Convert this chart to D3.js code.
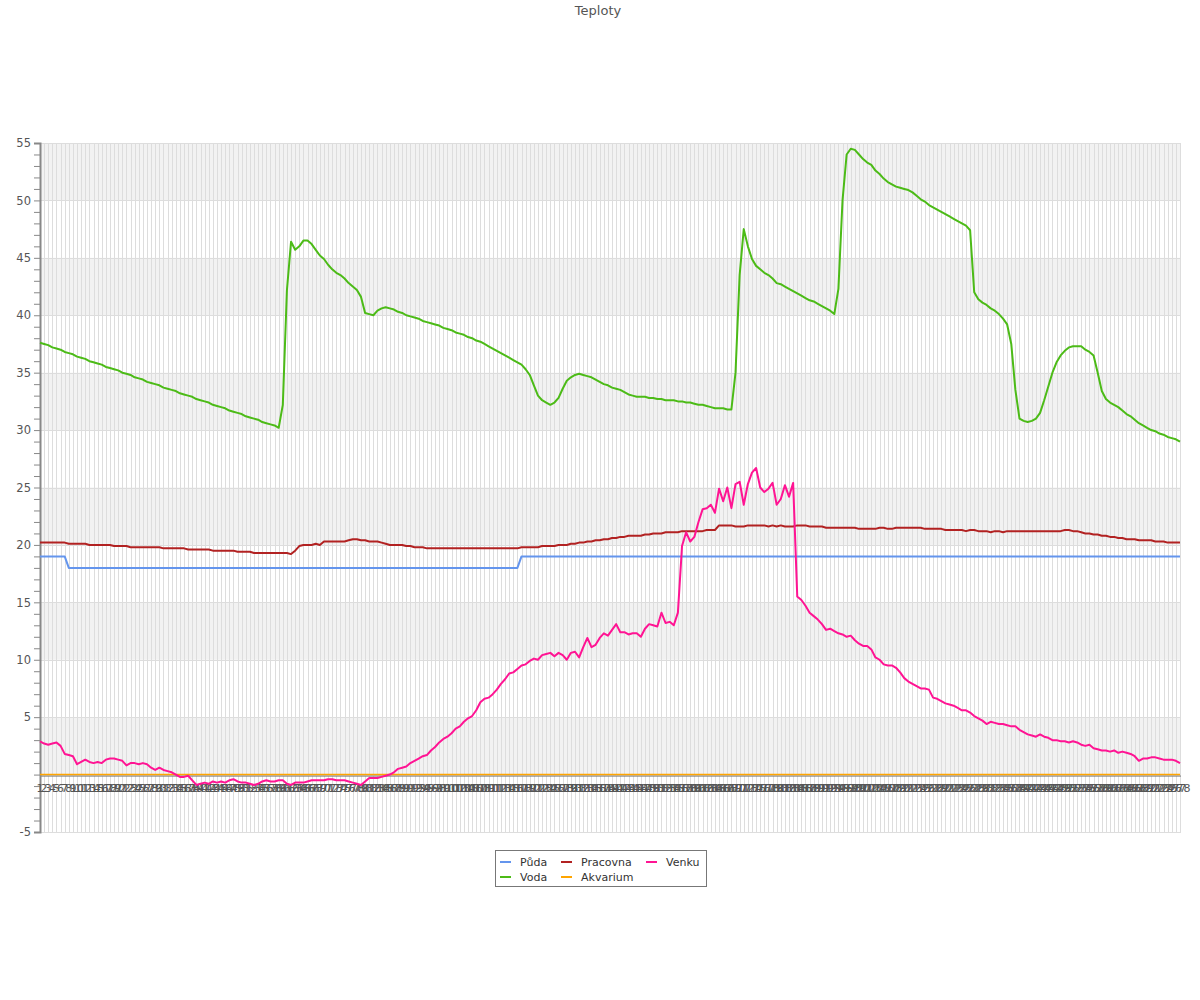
<!DOCTYPE html>
<html><head><meta charset="utf-8">
<script src="https://cdn.jsdelivr.net/npm/d3@7"></script>
<style>body{margin:0;background:#fff;} svg{display:block;font-family:"DejaVu Sans",sans-serif;}</style>
</head><body><svg id="c" width="1200" height="1000"></svg>
<script>
const chartTitle = "Teploty";
const categories = d3.range(1, 279).map(String);
const yLabelTicks = [-5,5,10,15,20,25,30,35,40,45,50,55];
const seriesNames = ["Půda","Voda","Pracovna","Akvarium","Venku"];
const seriesColors = ["#6495ed","#4cbb17","#b22222","#ffa500","#ff1493"];

const puda = [
19,19,19,19,19,19,19,18,18,18,
18,18,18,18,18,18,18,18,18,18,
18,18,18,18,18,18,18,18,18,18,
18,18,18,18,18,18,18,18,18,18,
18,18,18,18,18,18,18,18,18,18,
18,18,18,18,18,18,18,18,18,18,
18,18,18,18,18,18,18,18,18,18,
18,18,18,18,18,18,18,18,18,18,
18,18,18,18,18,18,18,18,18,18,
18,18,18,18,18,18,18,18,18,18,
18,18,18,18,18,18,18,18,18,18,
18,18,18,18,18,18,18,19,19,19,
19,19,19,19,19,19,19,19,19,19,
19,19,19,19,19,19,19,19,19,19,
19,19,19,19,19,19,19,19,19,19,
19,19,19,19,19,19,19,19,19,19,
19,19,19,19,19,19,19,19,19,19,
19,19,19,19,19,19,19,19,19,19,
19,19,19,19,19,19,19,19,19,19,
19,19,19,19,19,19,19,19,19,19,
19,19,19,19,19,19,19,19,19,19,
19,19,19,19,19,19,19,19,19,19,
19,19,19,19,19,19,19,19,19,19,
19,19,19,19,19,19,19,19,19,19,
19,19,19,19,19,19,19,19,19,19,
19,19,19,19,19,19,19,19,19,19,
19,19,19,19,19,19,19,19,19,19,
19,19,19,19,19,19,19,19];

const voda = [
37.6,37.5,37.4,37.2,37.1,37.0,36.8,36.7,36.6,36.4,
36.3,36.2,36.0,35.9,35.8,35.7,35.5,35.4,35.3,35.2,
35.0,34.9,34.8,34.6,34.5,34.4,34.2,34.1,34.0,33.9,
33.7,33.6,33.5,33.4,33.2,33.1,33.0,32.9,32.7,32.6,
32.5,32.4,32.2,32.1,32.0,31.9,31.7,31.6,31.5,31.4,
31.2,31.1,31.0,30.9,30.7,30.6,30.5,30.4,30.2,32.2,
42.2,46.4,45.7,46.0,46.5,46.5,46.2,45.7,45.2,44.9,
44.4,44.0,43.7,43.5,43.2,42.8,42.5,42.2,41.6,40.2,
40.1,40.0,40.4,40.6,40.7,40.6,40.5,40.3,40.2,40.0,
39.9,39.8,39.7,39.5,39.4,39.3,39.2,39.1,38.9,38.8,
38.7,38.5,38.4,38.3,38.1,38.0,37.8,37.7,37.5,37.3,
37.1,36.9,36.7,36.5,36.3,36.1,35.9,35.7,35.3,34.8,
33.9,33.0,32.6,32.4,32.2,32.4,32.8,33.6,34.3,34.6,
34.8,34.9,34.8,34.7,34.6,34.4,34.2,34.0,33.9,33.7,
33.6,33.5,33.3,33.1,33.0,32.9,32.9,32.9,32.8,32.8,
32.7,32.7,32.6,32.6,32.6,32.5,32.5,32.4,32.4,32.3,
32.2,32.2,32.1,32.0,31.9,31.9,31.9,31.8,31.8,35.0,
43.5,47.5,46.0,44.9,44.3,44.0,43.7,43.5,43.2,42.8,
42.7,42.5,42.3,42.1,41.9,41.7,41.5,41.3,41.2,41.0,
40.8,40.6,40.4,40.1,42.3,50.0,54.0,54.5,54.4,54.0,
53.6,53.3,53.1,52.6,52.3,51.9,51.6,51.4,51.2,51.1,
51.0,50.9,50.7,50.4,50.1,49.9,49.6,49.4,49.2,49.0,
48.8,48.6,48.4,48.2,48.0,47.8,47.4,42.0,41.4,41.1,
40.9,40.6,40.4,40.1,39.7,39.2,37.5,33.5,31.0,30.8,
30.7,30.8,31.0,31.5,32.6,33.8,35.0,35.9,36.5,36.9,
37.2,37.3,37.3,37.3,37.0,36.8,36.5,35.0,33.4,32.7,
32.4,32.2,32.0,31.7,31.4,31.2,30.9,30.6,30.4,30.2,
30.0,29.9,29.7,29.6,29.4,29.3,29.2,29.0];

const pracovna = [
20.2,20.2,20.2,20.2,20.2,20.2,20.2,20.1,20.1,20.1,
20.1,20.1,20.0,20.0,20.0,20.0,20.0,20.0,19.9,19.9,
19.9,19.9,19.8,19.8,19.8,19.8,19.8,19.8,19.8,19.8,
19.7,19.7,19.7,19.7,19.7,19.7,19.6,19.6,19.6,19.6,
19.6,19.6,19.5,19.5,19.5,19.5,19.5,19.5,19.4,19.4,
19.4,19.4,19.3,19.3,19.3,19.3,19.3,19.3,19.3,19.3,
19.3,19.2,19.5,19.9,20.0,20.0,20.0,20.1,20.0,20.3,
20.3,20.3,20.3,20.3,20.3,20.4,20.5,20.5,20.4,20.4,
20.3,20.3,20.3,20.2,20.1,20.0,20.0,20.0,20.0,19.9,
19.9,19.8,19.8,19.8,19.7,19.7,19.7,19.7,19.7,19.7,
19.7,19.7,19.7,19.7,19.7,19.7,19.7,19.7,19.7,19.7,
19.7,19.7,19.7,19.7,19.7,19.7,19.7,19.8,19.8,19.8,
19.8,19.8,19.9,19.9,19.9,19.9,20.0,20.0,20.0,20.1,
20.1,20.2,20.2,20.3,20.3,20.4,20.4,20.5,20.5,20.6,
20.6,20.7,20.7,20.8,20.8,20.8,20.8,20.9,20.9,21.0,
21.0,21.0,21.1,21.1,21.1,21.1,21.2,21.2,21.2,21.2,
21.2,21.2,21.3,21.3,21.3,21.7,21.7,21.7,21.7,21.6,
21.6,21.6,21.7,21.7,21.7,21.7,21.7,21.6,21.7,21.6,
21.7,21.6,21.6,21.6,21.7,21.7,21.7,21.6,21.6,21.6,
21.6,21.5,21.5,21.5,21.5,21.5,21.5,21.5,21.5,21.4,
21.4,21.4,21.4,21.4,21.5,21.5,21.4,21.4,21.5,21.5,
21.5,21.5,21.5,21.5,21.5,21.4,21.4,21.4,21.4,21.4,
21.3,21.3,21.3,21.3,21.3,21.2,21.3,21.3,21.2,21.2,
21.2,21.1,21.2,21.2,21.1,21.2,21.2,21.2,21.2,21.2,
21.2,21.2,21.2,21.2,21.2,21.2,21.2,21.2,21.2,21.3,
21.3,21.2,21.2,21.1,21.0,21.0,20.9,20.9,20.8,20.8,
20.7,20.7,20.6,20.6,20.5,20.5,20.5,20.4,20.4,20.4,
20.4,20.3,20.3,20.3,20.2,20.2,20.2,20.2];

const akvarium = [
0,0,0,0,0,0,0,0,0,0, 0,0,0,0,0,0,0,0,0,0, 0,0,0,0,0,0,0,0,0,0,
0,0,0,0,0,0,0,0,0,0, 0,0,0,0,0,0,0,0,0,0, 0,0,0,0,0,0,0,0,0,0,
0,0,0,0,0,0,0,0,0,0, 0,0,0,0,0,0,0,0,0,0, 0,0,0,0,0,0,0,0,0,0,
0,0,0,0,0,0,0,0,0,0, 0,0,0,0,0,0,0,0,0,0, 0,0,0,0,0,0,0,0,0,0,
0,0,0,0,0,0,0,0,0,0, 0,0,0,0,0,0,0,0,0,0, 0,0,0,0,0,0,0,0,0,0,
0,0,0,0,0,0,0,0,0,0, 0,0,0,0,0,0,0,0,0,0, 0,0,0,0,0,0,0,0,0,0,
0,0,0,0,0,0,0,0,0,0, 0,0,0,0,0,0,0,0,0,0, 0,0,0,0,0,0,0,0,0,0,
0,0,0,0,0,0,0,0,0,0, 0,0,0,0,0,0,0,0,0,0, 0,0,0,0,0,0,0,0,0,0,
0,0,0,0,0,0,0,0,0,0, 0,0,0,0,0,0,0,0,0,0, 0,0,0,0,0,0,0,0,0,0,
0,0,0,0,0,0,0,0];

const venku = [
2.9,2.7,2.6,2.7,2.8,2.5,1.8,1.7,1.6,0.9,
1.1,1.3,1.1,1.0,1.1,1.0,1.3,1.4,1.4,1.3,
1.2,0.8,1.0,1.0,0.9,1.0,0.9,0.6,0.4,0.6,
0.4,0.3,0.2,0.0,-0.2,-0.2,-0.1,-0.5,-0.9,-0.8,
-0.7,-0.8,-0.6,-0.7,-0.6,-0.7,-0.5,-0.4,-0.6,-0.7,
-0.7,-0.8,-0.9,-0.8,-0.6,-0.5,-0.6,-0.6,-0.5,-0.5,
-0.8,-0.9,-0.7,-0.7,-0.7,-0.6,-0.5,-0.5,-0.5,-0.5,
-0.4,-0.4,-0.5,-0.5,-0.5,-0.6,-0.7,-0.8,-0.9,-0.6,
-0.3,-0.3,-0.3,-0.2,-0.1,0.0,0.2,0.5,0.6,0.7,
1.0,1.2,1.4,1.6,1.7,2.1,2.4,2.8,3.1,3.3,
3.6,4.0,4.2,4.6,4.9,5.1,5.6,6.3,6.6,6.7,
7.0,7.4,7.9,8.3,8.8,8.9,9.2,9.5,9.6,9.9,
10.1,10.0,10.4,10.5,10.6,10.3,10.6,10.4,10.0,10.6,
10.7,10.2,11.1,11.9,11.1,11.3,11.9,12.3,12.1,12.6,
13.1,12.4,12.4,12.2,12.3,12.3,12.0,12.7,13.1,13.0,
12.9,14.1,13.2,13.3,13.0,14.1,19.9,21.1,20.3,20.7,
22.0,23.1,23.2,23.5,22.8,24.9,23.8,25.0,23.2,25.3,
25.5,23.5,25.3,26.3,26.7,25.0,24.6,24.9,25.4,23.5,
24.0,25.2,24.2,25.4,15.5,15.2,14.7,14.1,13.8,13.5,
13.1,12.6,12.7,12.5,12.3,12.2,12.0,12.1,11.7,11.4,
11.2,11.2,10.9,10.2,10.0,9.6,9.5,9.5,9.3,8.9,
8.4,8.1,7.9,7.7,7.5,7.5,7.4,6.7,6.6,6.4,
6.2,6.1,6.0,5.8,5.6,5.6,5.4,5.1,4.9,4.7,
4.4,4.6,4.5,4.4,4.4,4.3,4.2,4.2,3.9,3.7,
3.5,3.4,3.3,3.5,3.3,3.2,3.0,3.0,2.9,2.9,
2.8,2.9,2.8,2.6,2.5,2.6,2.3,2.2,2.1,2.1,
2.0,2.1,1.9,2.0,1.9,1.8,1.6,1.2,1.4,1.4,
1.5,1.5,1.4,1.3,1.3,1.3,1.2,1.0];

const seriesValues = [puda, voda, pracovna, akvarium, venku];

const svg = d3.select("#c");
const L = 40, R = 1180, T = 143, B = 832;
const x = d3.scalePoint().domain(categories).range([L, R]);
const y = d3.scaleLinear().domain([-5, 55]).range([B, T]);

// title
svg.append("text").attr("x", 598).attr("y", 15).attr("text-anchor", "middle")
  .attr("font-size", 13).attr("fill", "#555").text(chartTitle);

// stripes
const bandStarts = d3.range(-5, 55, 5);
svg.append("g").selectAll("rect").data(bandStarts.filter(b => b % 10 === 0)).join("rect")
  .attr("x", L).attr("width", R - L + 1)
  .attr("y", d => y(d + 5)).attr("height", d => y(d) - y(d + 5))
  .attr("fill", "#f2f2f2");

// vertical grid
svg.append("g").selectAll("line").data(categories).join("line")
  .attr("x1", d => Math.round(x(d)) + 0.5).attr("x2", d => Math.round(x(d)) + 0.5)
  .attr("y1", T).attr("y2", B)
  .attr("stroke", "#dddddd").attr("stroke-width", 1);

// horizontal grid
svg.append("g").selectAll("line").data(d3.range(-5, 56, 5)).join("line")
  .attr("x1", L).attr("x2", R + 1)
  .attr("y1", d => Math.round(y(d)) + 0.5).attr("y2", d => Math.round(y(d)) + 0.5)
  .attr("stroke", "#dddddd").attr("stroke-width", 1);

// zero axis line
svg.append("line").attr("x1", L).attr("x2", R + 1)
  .attr("y1", y(0) + 1.5).attr("y2", y(0) + 1.5)
  .attr("stroke", "#777").attr("stroke-width", 1);

// y axis
const yAxis = d3.axisLeft(y).tickValues(d3.range(-5, 56, 1)).tickSize(6)
  .tickFormat(d => yLabelTicks.includes(d) ? String(d) : "");
const gy = svg.append("g").attr("transform", `translate(${L},0)`).call(yAxis);
gy.select(".domain").attr("stroke", "#888").attr("stroke-width", 2);
gy.selectAll(".tick line").attr("stroke", "#888");
gy.selectAll(".tick text").attr("fill", "#555").attr("font-size", 11.5)
  .attr("font-family", "DejaVu Sans, sans-serif").attr("x", -9);

// x labels
svg.append("g").selectAll("text").data(categories).join("text")
  .attr("x", d => x(d)).attr("y", 792).attr("text-anchor", "middle")
  .attr("font-size", 11).attr("fill", "#555").text(d => d);

// lines
const line = d3.line().x((d, i) => x(categories[i])).y(d => y(d));
svg.append("g").selectAll("path").data(seriesValues).join("path")
  .attr("d", d => line(d))
  .attr("fill", "none")
  .attr("stroke", (d, i) => seriesColors[i])
  .attr("stroke-width", (d, i) => seriesNames[i] === "Akvarium" ? 1.5 : 2)
  .attr("stroke-linejoin", "round");

// legend
const lg = svg.append("g");
lg.append("rect").attr("x", 495.5).attr("y", 850.5).attr("width", 211).attr("height", 36)
  .attr("fill", "#fff").attr("stroke", "#777");
const legendPos = [[500, 862], [500, 877], [561, 862], [561, 877], [646, 862]];
seriesNames.forEach((name, i) => {
  const [lx, ly] = legendPos[i];
  lg.append("line").attr("x1", lx).attr("x2", lx + 11).attr("y1", ly).attr("y2", ly)
    .attr("stroke", seriesColors[i]).attr("stroke-width", 2);
  lg.append("text").attr("x", lx + 20).attr("y", ly + 3.5).attr("font-size", 11)
    .attr("fill", "#333").text(name);
});
</script>
</body></html>
